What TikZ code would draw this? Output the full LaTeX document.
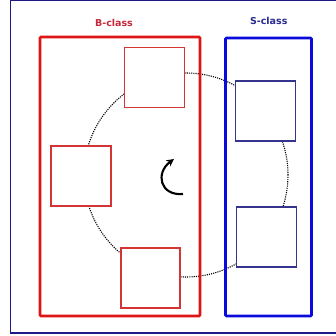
\documentclass[tikz,border=0pt]{standalone}
\usepackage{fontspec}
\setmainfont{DejaVu Sans}
\usetikzlibrary{arrows.meta}
\definecolor{frameblue}{HTML}{1C1C84}
\definecolor{bigred}{HTML}{DD1515}
\definecolor{labred}{HTML}{C8283C}
\definecolor{smallred}{HTML}{D33535}
\definecolor{bigblue}{HTML}{0A0ADD}
\definecolor{labblue}{HTML}{2A2A90}
\definecolor{smallblue}{HTML}{34348F}
\begin{document}
\begin{tikzpicture}[x=1pt,y=-1pt,
  bigbox/.style={draw, rectangle, line width=2.6pt, inner sep=0pt, outer sep=0pt, rounded corners=1pt},
  smallbox/.style={draw, rectangle, line width=1.2pt, fill=white, inner sep=0pt, outer sep=0pt, minimum width=60pt, minimum height=60pt},
  lab/.style={font=\bfseries\fontsize{9.5}{10}\selectfont, inner sep=0pt},
  ring/.style={draw, circle, line width=1.1pt, dash pattern=on 1.1pt off 1.1pt, inner sep=0pt, minimum size=204pt}]
\useasboundingbox (0,0) rectangle (336,335);
\fill[white] (0,0) rectangle (336,335);
% outer frame
\draw[frameblue, line width=1.6pt] (10.3,0.6) rectangle (346,333);
% dotted circle
\node[ring] (ring) at (186,175) {};
% big boxes
\node[bigbox, draw=bigred, minimum width=160pt, minimum height=279pt] (B) at (120,176.5) {};
\node[bigbox, draw=bigblue, minimum width=86pt, minimum height=278pt] (S) at (268.5,177) {};
% labels
\node[lab, text=labred] (Blab) at (114,22.5) {B-class};
\node[lab, text=labblue] (Slab) at (268.7,20.5) {S-class};
% small red boxes
\node[smallbox, draw=smallred] (r1) at (154.5,77.5) {};
\node[smallbox, draw=smallred] (r2) at (81,176) {};
\node[smallbox, draw=smallred, minimum width=59pt] (r3) at (150.5,278) {};
% small blue boxes
\node[smallbox, draw=smallblue] (b1) at (265.7,111) {};
\node[smallbox, draw=smallblue] (b2) at (266.8,237) {};
% rotation arrow
\coordinate (as) at (183,194);
\coordinate (ae) at (174,159);
\draw[line width=2.1pt, -{Stealth[length=7.5pt,width=7.5pt]}] (as) .. controls (160,196) and (155,173) .. (ae);
\end{tikzpicture}
\end{document}
